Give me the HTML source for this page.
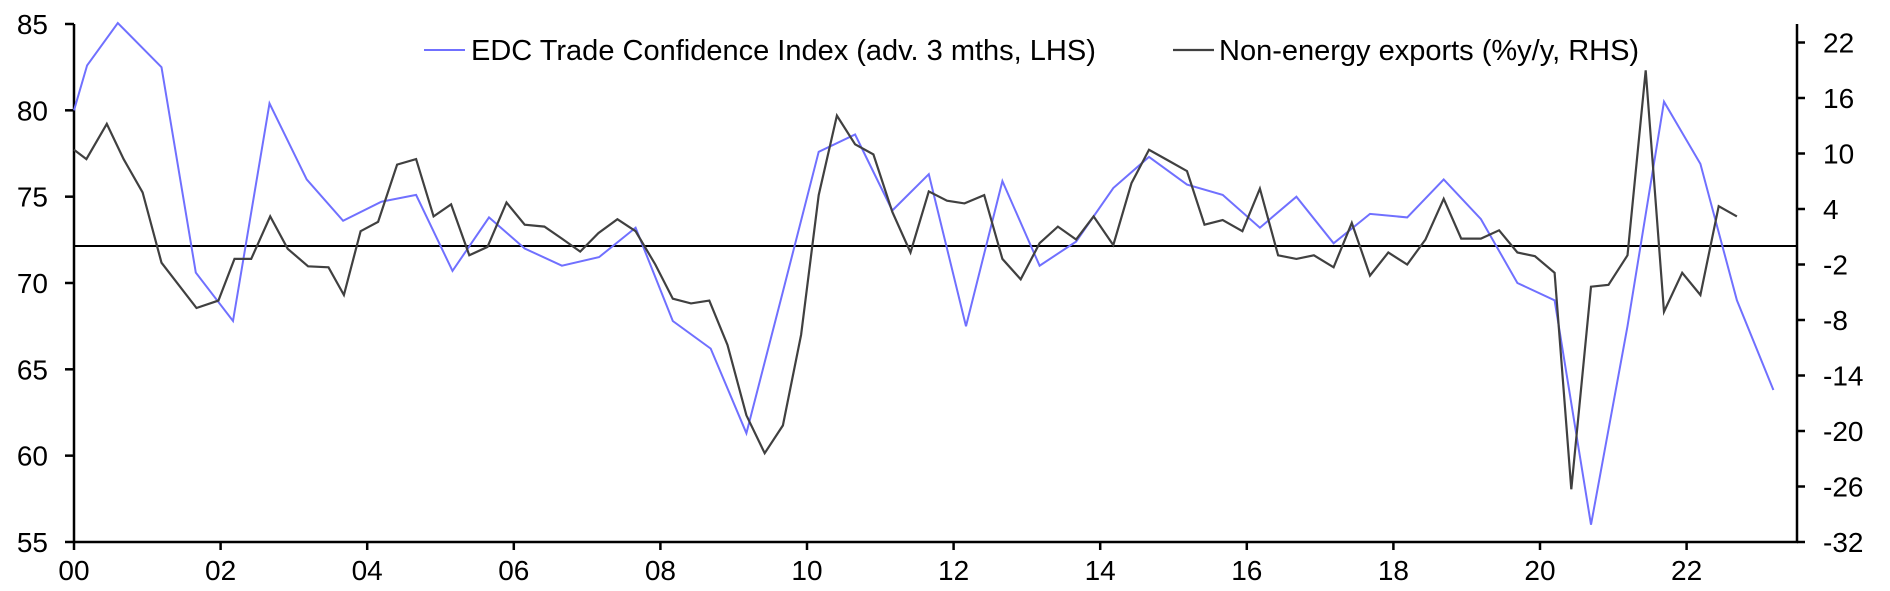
<!DOCTYPE html>
<html><head><meta charset="utf-8"><style>
html,body{margin:0;padding:0;background:#fff;}
svg{display:block;font-family:"Liberation Sans",Arial,sans-serif;}
</style></head><body>
<svg id="c" width="1890" height="591" viewBox="0 0 1890 591" xmlns="http://www.w3.org/2000/svg">
<g id="axes" stroke="#000" stroke-width="2.5" fill="none">
<line x1="74" y1="24" x2="74" y2="543"/>
<line x1="1797" y1="24" x2="1797" y2="543"/>
<line x1="73" y1="542" x2="1798" y2="542"/>
<line x1="74" y1="246" x2="1797" y2="246" stroke-width="2"/>
</g>
<g id="ticks" stroke="#000" stroke-width="2.5"></g>
<g id="lbl" font-size="28" fill="#000"></g>
<polyline id="blue" fill="none" stroke="#7070ff" stroke-width="2"/>
<polyline id="blk" fill="none" stroke="#404040" stroke-width="2.2"/>
<line x1="424" y1="50" x2="465" y2="50" stroke="#7070ff" stroke-width="2"/>
<text x="471" y="60" font-size="29">EDC Trade Confidence Index (adv. 3 mths, LHS)</text>
<line x1="1173" y1="50" x2="1214" y2="50" stroke="#404040" stroke-width="2.2"/>
<text x="1219" y="60" font-size="29">Non-energy exports (%y/y, RHS)</text>
</svg>
<script>
var NS="http://www.w3.org/2000/svg";
function X(yr){return 74+yr*0.995*73.3;}
function YL(v){return 24+(85-v)*86.33/5;}
function YR(v){return 542-(v+32)*9.25;}
var t=document.getElementById('ticks'),l=document.getElementById('lbl');
function ln(a,b,c,d){var e=document.createElementNS(NS,'line');e.setAttribute('x1',a);e.setAttribute('y1',b);e.setAttribute('x2',c);e.setAttribute('y2',d);t.appendChild(e);}
function tx(x,y,s,a){var e=document.createElementNS(NS,'text');e.setAttribute('x',x);e.setAttribute('y',y);e.setAttribute('text-anchor',a);e.textContent=s;l.appendChild(e);}
for(var v=55;v<=85;v+=5){var y=YL(v);ln(65,y,74,y);tx(48,y+10,v,'end');}
for(var v=-32;v<=22;v+=6){var y=YR(v);ln(1797,y,1805,y);tx(1823,y+10,v,'start');}
for(var k=0;k<=22;k+=2){var x=74+k*73.3;ln(x,542,x,550);tx(x,580,(k<10?'0':'')+k,'middle');}
var B=[[0,80],[0.18,82.6],[0.6,85.3],[1.2,82.5],[1.67,70.6],[2.18,67.8],[2.68,80.4],[3.19,76.0],[3.69,73.6],[4.21,74.7],[4.69,75.1],[5.19,70.7],[5.69,73.8],[6.18,72.0],[6.69,71.0],[7.2,71.5],[7.7,73.2],[8.21,67.8],[8.73,66.2],[9.22,61.3],[9.72,69.5],[10.21,77.6],[10.71,78.6],[11.22,74.2],[11.72,76.3],[12.23,67.5],[12.73,75.9],[13.24,71.0],[13.74,72.4],[14.25,75.5],[14.74,77.3],[15.26,75.7],[15.75,75.1],[16.26,73.2],[16.76,75.0],[17.27,72.3],[17.77,74.0],[18.28,73.8],[18.78,76.0],[19.29,73.7],[19.79,70.0],[20.3,69.0],[20.8,56.0],[21.3,67.5],[21.8,80.5],[22.3,76.9],[22.8,69.0],[23.3,63.8]];
var K=[[0,10.4],[0.17,9.4],[0.45,13.2],[0.68,9.4],[0.94,5.8],[1.2,-1.8],[1.68,-6.7],[1.98,-5.9],[2.2,-1.4],[2.43,-1.4],[2.69,3.2],[2.93,-0.3],[3.21,-2.2],[3.49,-2.3],[3.7,-5.3],[3.93,1.6],[4.17,2.6],[4.43,8.8],[4.69,9.4],[4.93,3.2],[5.17,4.5],[5.42,-1.0],[5.67,-0.1],[5.93,4.7],[6.18,2.3],[6.45,2.1],[6.69,0.8],[6.94,-0.6],[7.19,1.4],[7.45,2.9],[7.7,1.6],[7.97,-2.0],[8.21,-5.7],[8.46,-6.2],[8.71,-5.9],[8.96,-10.7],[9.22,-18.3],[9.47,-22.4],[9.72,-19.4],[9.97,-9.6],[10.21,5.5],[10.46,14.1],[10.71,11.0],[10.96,9.9],[11.22,3.7],[11.47,-0.7],[11.72,5.9],[11.97,4.9],[12.21,4.6],[12.48,5.5],[12.73,-1.4],[12.98,-3.6],[13.24,0.3],[13.49,2.1],[13.74,0.7],[13.98,3.2],[14.25,0.1],[14.5,6.8],[14.74,10.4],[14.99,9.3],[15.26,8.1],[15.5,2.3],[15.75,2.8],[16.02,1.6],[16.26,6.2],[16.51,-1.0],[16.76,-1.4],[17.0,-1.0],[17.27,-2.3],[17.52,2.5],[17.77,-3.2],[18.02,-0.7],[18.28,-2.0],[18.53,0.7],[18.78,5.1],[19.02,0.8],[19.29,0.8],[19.54,1.7],[19.79,-0.7],[20.03,-1.1],[20.3,-2.9],[20.53,-26.3],[20.8,-4.4],[21.04,-4.2],[21.3,-1.0],[21.55,19.0],[21.8,-7.1],[22.05,-2.9],[22.3,-5.3],[22.55,4.3],[22.8,3.2]];
document.getElementById('blue').setAttribute('points',B.map(function(p){return X(p[0]).toFixed(1)+','+Math.max(YL(p[1]),23).toFixed(1);}).join(' '));
document.getElementById('blk').setAttribute('points',K.map(function(p){return X(p[0]).toFixed(1)+','+YR(p[1]).toFixed(1);}).join(' '));
</script>
</body></html>
